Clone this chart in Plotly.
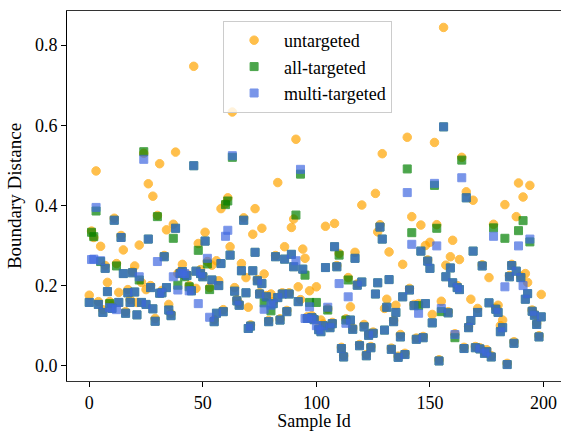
import plotly.graph_objects as go

sample_ids = list(range(200))

untargeted = [
    0.176, 0.336, 0.320, 0.486, 0.160, 0.298, 0.140, 0.250, 0.208, 0.160,
    0.150, 0.368, 0.255, 0.183, 0.325, 0.289, 0.135, 0.190, 0.165, 0.235,
    0.249, 0.158, 0.301, 0.208, 0.530, 0.190, 0.454, 0.200, 0.423, 0.118,
    0.375, 0.504, 0.188, 0.275, 0.339, 0.153, 0.130, 0.353, 0.533, 0.230,
    0.235, 0.253, 0.225, 0.228, 0.200, 0.190, 0.747, 0.193, 0.305, 0.240,
    0.225, 0.333, 0.260, 0.195, 0.251, 0.115, 0.262, 0.212, 0.392, 0.140,
    0.405, 0.419, 0.297, 0.633, 0.195, 0.165, 0.155, 0.255, 0.369, 0.220,
    0.146, 0.102, 0.328, 0.392, 0.215, 0.182, 0.343, 0.229, 0.175, 0.113,
    0.179, 0.160, 0.275, 0.457, 0.117, 0.182, 0.297, 0.138, 0.182, 0.345,
    0.366, 0.565, 0.197, 0.165, 0.291, 0.268, 0.122, 0.187, 0.125, 0.118,
    0.197, 0.095, 0.114, 0.104, 0.348, 0.142, 0.098, 0.108, 0.355, 0.250,
    0.280, 0.046, 0.025, 0.117, 0.220, 0.147, 0.094, 0.283, 0.204, 0.053,
    0.401, 0.103, 0.028, 0.079, 0.048, 0.084, 0.430, 0.334, 0.352, 0.529,
    0.143, 0.166, 0.284, 0.044, 0.113, 0.151, 0.024, 0.078, 0.253, 0.031,
    0.570, 0.193, 0.372, 0.153, 0.069, 0.155, 0.351, 0.073, 0.300, 0.264,
    0.308, 0.128, 0.557, 0.352, 0.015, 0.161, 0.844, 0.251, 0.135, 0.272,
    0.313, 0.080, 0.200, 0.265, 0.520, 0.046, 0.434, 0.098, 0.166, 0.413,
    0.048, 0.143, 0.045, 0.252, 0.034, 0.040, 0.220, 0.025, 0.353, 0.144,
    0.151, 0.100, 0.114, 0.402, 0.006, 0.225, 0.253, 0.060, 0.372, 0.456,
    0.223, 0.421, 0.230, 0.208, 0.450, 0.139, 0.129, 0.106, 0.075, 0.178,
]

all_targeted = [
    0.158, 0.333, 0.322, 0.386, 0.153, 0.260, 0.133, 0.243, 0.185, 0.155,
    0.143, 0.363, 0.249, 0.158, 0.320, 0.230, 0.131, 0.182, 0.158, 0.232,
    0.184, 0.127, 0.214, 0.158, 0.534, 0.153, 0.316, 0.195, 0.142, 0.111,
    0.372, 0.181, 0.182, 0.272, 0.195, 0.139, 0.125, 0.318, 0.343, 0.201,
    0.230, 0.235, 0.222, 0.225, 0.197, 0.187, 0.499, 0.236, 0.288, 0.230,
    0.222, 0.311, 0.254, 0.190, 0.214, 0.110, 0.131, 0.200, 0.255, 0.135,
    0.402, 0.411, 0.276, 0.520, 0.186, 0.162, 0.151, 0.237, 0.363, 0.182,
    0.093, 0.099, 0.237, 0.283, 0.212, 0.179, 0.205, 0.157, 0.172, 0.110,
    0.137, 0.155, 0.272, 0.170, 0.114, 0.179, 0.266, 0.135, 0.179, 0.278,
    0.247, 0.376, 0.160, 0.478, 0.241, 0.226, 0.118, 0.158, 0.120, 0.115,
    0.158, 0.090, 0.085, 0.100, 0.245, 0.139, 0.095, 0.105, 0.297, 0.247,
    0.276, 0.043, 0.022, 0.114, 0.214, 0.114, 0.091, 0.268, 0.201, 0.050,
    0.209, 0.097, 0.025, 0.076, 0.045, 0.081, 0.179, 0.207, 0.346, 0.316,
    0.089, 0.146, 0.215, 0.041, 0.110, 0.133, 0.021, 0.072, 0.172, 0.028,
    0.491, 0.189, 0.332, 0.150, 0.066, 0.150, 0.286, 0.070, 0.155, 0.261,
    0.243, 0.107, 0.450, 0.343, 0.012, 0.135, 0.596, 0.222, 0.132, 0.244,
    0.207, 0.070, 0.195, 0.190, 0.513, 0.043, 0.419, 0.095, 0.113, 0.286,
    0.045, 0.133, 0.042, 0.249, 0.031, 0.035, 0.157, 0.022, 0.344, 0.141,
    0.133, 0.085, 0.095, 0.318, 0.003, 0.222, 0.250, 0.056, 0.236, 0.337,
    0.220, 0.362, 0.166, 0.180, 0.309, 0.136, 0.126, 0.103, 0.072, 0.122,
]

multi_targeted = [
    0.158, 0.265, 0.266, 0.395, 0.153, 0.262, 0.133, 0.243, 0.185, 0.145,
    0.143, 0.363, 0.140, 0.158, 0.320, 0.230, 0.131, 0.182, 0.158, 0.232,
    0.184, 0.127, 0.222, 0.158, 0.515, 0.153, 0.316, 0.195, 0.142, 0.111,
    0.260, 0.181, 0.182, 0.272, 0.195, 0.139, 0.125, 0.222, 0.343, 0.189,
    0.230, 0.235, 0.230, 0.225, 0.187, 0.187, 0.499, 0.236, 0.155, 0.230,
    0.222, 0.311, 0.268, 0.121, 0.214, 0.110, 0.131, 0.200, 0.255, 0.135,
    0.323, 0.338, 0.276, 0.524, 0.186, 0.162, 0.151, 0.237, 0.363, 0.182,
    0.093, 0.099, 0.237, 0.283, 0.212, 0.179, 0.205, 0.141, 0.172, 0.110,
    0.151, 0.155, 0.272, 0.170, 0.114, 0.179, 0.266, 0.135, 0.179, 0.278,
    0.247, 0.262, 0.160, 0.490, 0.241, 0.118, 0.118, 0.147, 0.120, 0.115,
    0.100, 0.090, 0.085, 0.100, 0.245, 0.146, 0.095, 0.105, 0.297, 0.247,
    0.205, 0.043, 0.022, 0.106, 0.172, 0.114, 0.091, 0.268, 0.201, 0.050,
    0.209, 0.097, 0.025, 0.076, 0.045, 0.081, 0.179, 0.207, 0.346, 0.316,
    0.089, 0.146, 0.215, 0.041, 0.110, 0.133, 0.021, 0.072, 0.172, 0.028,
    0.432, 0.189, 0.303, 0.150, 0.066, 0.131, 0.286, 0.070, 0.155, 0.261,
    0.243, 0.107, 0.455, 0.299, 0.012, 0.143, 0.596, 0.222, 0.132, 0.244,
    0.207, 0.078, 0.195, 0.190, 0.469, 0.043, 0.419, 0.095, 0.113, 0.286,
    0.045, 0.133, 0.042, 0.249, 0.031, 0.035, 0.157, 0.022, 0.323, 0.141,
    0.133, 0.085, 0.095, 0.197, 0.003, 0.222, 0.250, 0.056, 0.236, 0.299,
    0.220, 0.200, 0.166, 0.180, 0.316, 0.136, 0.126, 0.103, 0.072, 0.122,
]

x_ticks = [0, 50, 100, 150, 200]
y_ticks = [0.0, 0.2, 0.4, 0.6, 0.8]

FONT = "Liberation Serif"

fig = go.Figure()
fig.add_trace(go.Scatter(
    x=sample_ids, y=untargeted, mode="markers", name="untargeted",
    marker=dict(symbol="circle", size=8.5, color="rgb(255,165,0)", opacity=0.7,
                line=dict(color="rgb(255,165,0)", width=1)),
))
fig.add_trace(go.Scatter(
    x=sample_ids, y=all_targeted, mode="markers", name="all-targeted",
    marker=dict(symbol="square", size=8, color="rgb(0,128,0)", opacity=0.7,
                line=dict(color="rgb(0,128,0)", width=1)),
))
fig.add_trace(go.Scatter(
    x=sample_ids, y=multi_targeted, mode="markers", name="multi-targeted",
    marker=dict(symbol="square", size=8, color="rgb(65,105,225)", opacity=0.7,
                line=dict(color="rgb(65,105,225)", width=1)),
))

fig.update_layout(
    width=561, height=431,
    margin=dict(l=67, r=0, t=11, b=50),
    paper_bgcolor="white", plot_bgcolor="white",
    font=dict(family=FONT, size=18, color="black"),
    showlegend=True,
    legend=dict(
        x=0.316, y=0.973, xanchor="left", yanchor="top",
        bgcolor="rgba(255,255,255,0.8)", bordercolor="#cccccc", borderwidth=1,
        font=dict(family=FONT, size=18), itemwidth=50,
        tracegroupgap=0,
    ),
    xaxis=dict(
        range=[-9.8, 207.7], tickvals=x_ticks, ticktext=[str(v) for v in x_ticks],
        showgrid=False, zeroline=False, showline=True, linecolor="#333333", linewidth=1.3,
        mirror=True, ticks="outside", ticklen=5, tickwidth=1, tickcolor="black",
        title=dict(text="Sample Id", font=dict(family=FONT, size=18), standoff=6),
        tickfont=dict(family=FONT, size=18),
    ),
    yaxis=dict(
        range=[-0.038, 0.885], tickvals=y_ticks, ticktext=["%.1f" % v for v in y_ticks],
        showgrid=False, zeroline=False, showline=True, linecolor="black", linewidth=1,
        mirror=False, ticks="outside", ticklen=5, tickwidth=1, tickcolor="black",
        title=dict(text="Boundary Distance", font=dict(family=FONT, size=19), standoff=8),
        tickfont=dict(family=FONT, size=18),
    ),
)

fig.write_html("out.html")
